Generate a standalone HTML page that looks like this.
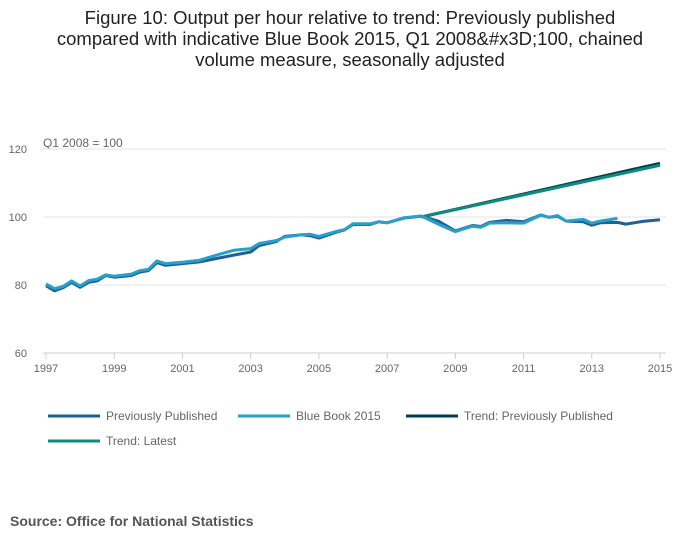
<!DOCTYPE html>
<html><head><meta charset="utf-8"><style>
body{margin:0;background:#fff;font-family:"Liberation Sans",sans-serif;}
#wrap{position:relative;width:700px;height:549px;overflow:hidden;}
</style></head><body>
<div id="wrap">
<svg id="chart" width="700" height="549" xmlns="http://www.w3.org/2000/svg">
<text x="350" y="24" text-anchor="middle" font-size="18.5" fill="#222"><tspan x="350" dy="0">Figure 10: Output per hour relative to trend: Previously published</tspan><tspan x="350" dy="21">compared with indicative Blue Book 2015, Q1 2008&amp;#x3D;100, chained</tspan><tspan x="350" dy="21">volume measure, seasonally adjusted</tspan></text>
<text x="43" y="147" font-size="12" fill="#666">Q1 2008 = 100</text>
<g id="grid"></g><g id="axes"></g><g id="series"></g><g id="legend"></g>
<text x="10" y="526" font-size="14" font-weight="bold" fill="#555">Source: Office for National Statistics</text>
</svg></div>
<script>
const yTicks=[60,80,100,120];
const xTicks=[1997,1999,2001,2003,2005,2007,2009,2011,2013,2015];
const prevT=[1997,1997.25,1997.5,1997.75,1998,1998.25,1998.5,1998.75,1999,1999.5,1999.75,2000,2000.25,2000.5,2001,2001.5,2002,2002.5,2003,2003.25,2003.75,2004,2004.5,2004.75,2005,2005.5,2005.75,2006,2006.5,2006.75,2007,2007.5,2008,2008.5,2009,2009.5,2009.75,2010,2010.5,2011,2011.5,2011.75,2012,2012.25,2012.75,2013,2013.25,2013.75,2014,2014.5,2015];
const prevV=[79.8,78.3,79.2,80.8,79.3,80.8,81.2,82.8,82.3,82.8,83.8,84.2,86.6,85.8,86.3,86.8,87.8,88.8,89.7,91.6,92.8,94.3,94.8,94.5,93.8,95.5,96.2,97.8,97.8,98.6,98.3,99.7,100.2,98.8,95.9,97.5,97.2,98.4,99.0,98.6,100.6,99.9,100.2,98.8,98.6,97.6,98.3,98.4,97.9,98.7,99.2];
const bbT=[1997,1997.25,1997.5,1997.75,1998,1998.25,1998.5,1998.75,1999,1999.5,1999.75,2000,2000.25,2000.5,2001,2001.5,2002,2002.5,2003,2003.25,2003.75,2004,2004.5,2004.75,2005,2005.5,2005.75,2006,2006.5,2006.75,2007,2007.5,2008,2008.5,2009,2009.5,2009.75,2010,2010.5,2011,2011.5,2011.75,2012,2012.25,2012.75,2013,2013.25,2013.75];
const bbV=[80.3,78.9,79.6,81.2,79.7,81.3,81.7,83.0,82.6,83.2,84.2,84.6,87.1,86.3,86.7,87.3,88.8,90.2,90.7,92.2,93.1,94.1,94.8,94.9,94.3,95.7,96.3,98.0,98.0,98.6,98.3,99.8,100.3,97.9,95.7,97.3,97.0,98.2,98.3,98.2,100.5,99.9,100.4,98.8,99.3,98.2,98.8,99.6];
const trendT=[2008,2015];
const trendPrevV=[100,115.8];
const trendLatestV=[100,115.2];
const NS="http://www.w3.org/2000/svg";
const X=t=>46+(t-1997)*(660-46)/18;
const Y=v=>353-(v-60)*3.4;
function mk(tag,a,p){const e=document.createElementNS(NS,tag);for(const k in a)e.setAttribute(k,a[k]);p.appendChild(e);return e;}
const grid=document.getElementById('grid'),axes=document.getElementById('axes'),ser=document.getElementById('series'),leg=document.getElementById('legend');
yTicks.forEach(v=>{
 const l=mk('line',{x1:43,x2:666,y1:Y(v),y2:Y(v),stroke:v==60?'#ccc':'#e3e3e3','stroke-width':1},grid);
 
 
 const t=mk('text',{x:27,y:Y(v)+4,'text-anchor':'end','font-size':11,fill:'#666'},axes);t.textContent=v;
 
 
});
xTicks.forEach(y=>{
 const l=mk('line',{x1:X(y),x2:X(y),y1:353,y2:359,stroke:'#ccc'},axes);
 
 
 const t=mk('text',{x:X(y),y:372,'text-anchor':'middle','font-size':11,fill:'#666'},axes);t.textContent=y;
 
 
});
function line(ts,vs,col,name){
 const d=ts.map((t,i)=>(i?'L':'M')+X(t).toFixed(1)+','+Y(vs[i]).toFixed(1)).join('');
 const p=mk('path',{d:d,fill:'none',stroke:col,'stroke-width':3,'stroke-linejoin':'round'},ser);
 
 
}
line(trendT,trendPrevV,'#003c57','series-trend-previously-published');
line(trendT,trendLatestV,'#0f8c79','series-trend-latest');
line(prevT,prevV,'#206095','series-previously-published');
line(bbT,bbV,'#27a0cc','series-blue-book-2015');
const items=[['Previously Published','#206095',48,416],['Blue Book 2015','#27a0cc',238,416],['Trend: Previously Published','#003c57',406,416],['Trend: Latest','#0f8c79',48,441]];
items.forEach(it=>{
 const g=mk('g',{},leg);
 
 
 mk('line',{x1:it[2],x2:it[2]+52,y1:it[3],y2:it[3],stroke:it[1],'stroke-width':3},g);
 const t=mk('text',{x:it[2]+58,y:it[3]+4,'font-size':12,fill:'#666'},g);t.textContent=it[0];
});
</script></body></html>
